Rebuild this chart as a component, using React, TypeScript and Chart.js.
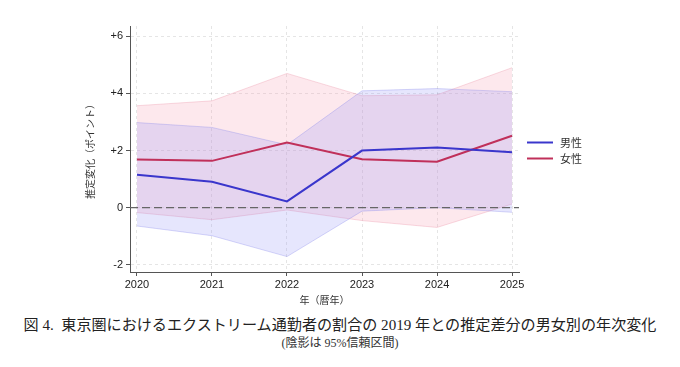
import React, { useEffect, useRef } from "react";
import { Chart, registerables } from "chart.js";

Chart.register(...registerables);

const years = [2020, 2021, 2022, 2023, 2024, 2025];
const maleEst = [1.15, 0.91, 0.22, 2.0, 2.11, 1.94];
const maleLo = [-0.64, -0.98, -1.71, -0.12, 0.0, -0.16];
const maleHi = [2.98, 2.81, 2.2, 4.09, 4.17, 4.06];
const femaleEst = [1.69, 1.64, 2.28, 1.7, 1.61, 2.52];
const femaleLo = [-0.17, -0.42, -0.08, -0.45, -0.69, 0.13];
const femaleHi = [3.57, 3.74, 4.7, 3.92, 3.95, 4.9];
const yTicks = [-2, 0, 2, 4, 6];
const yTickLabels = ["-2", "0", "+2", "+4", "+6"];
const seriesNames = ["男性", "女性"];
const yTitle = "推定変化（ポイント）";
const xTitle = "年（暦年）";
const caption = "図 4.  東京圏におけるエクストリーム通勤者の割合の 2019 年との推定差分の男女別の年次変化";
const subCaption = "(陰影は 95%信頼区間)";

const MALE = "#3a36cc";
const FEMALE = "#c0305a";

const pts = (arr: number[]) => arr.map((y, i) => ({ x: years[i], y }));

const legendPlugin = {
  id: "sideLegend",
  afterDraw(chart: any) {
    const { ctx, chartArea } = chart;
    const cy = (chartArea.top + chartArea.bottom) / 2;
    const items = [
      { label: seriesNames[0], color: MALE, y: cy - 6.5 },
      { label: seriesNames[1], color: FEMALE, y: cy + 9.5 },
    ];
    ctx.save();
    items.forEach((it) => {
      ctx.strokeStyle = it.color;
      ctx.lineWidth = 2;
      ctx.beginPath();
      ctx.moveTo(chartArea.right + 8, it.y);
      ctx.lineTo(chartArea.right + 34, it.y);
      ctx.stroke();
      ctx.fillStyle = "#333";
      ctx.font = "11px 'Noto Sans CJK JP'";
      ctx.textBaseline = "middle";
      ctx.textAlign = "left";
      ctx.fillText(it.label, chartArea.right + 41, it.y + 0.5);
    });
    ctx.restore();
  },
};

export default function App() {
  const ref = useRef<HTMLCanvasElement>(null);
  useEffect(() => {
    if (!ref.current) return;
    const xMin = 2019.907;
    const xMax = 2025.093;
    const chart = new Chart(ref.current, {
      type: "line",
      data: {
        datasets: [
          {
            label: "femaleHi",
            data: pts(femaleHi),
            borderColor: "rgba(235,150,170,0.35)",
            borderWidth: 1,
            backgroundColor: "rgba(245,140,165,0.2)",
            pointRadius: 0,
            fill: "+1",
            order: 5,
          },
          {
            label: "femaleLo",
            data: pts(femaleLo),
            borderColor: "rgba(235,150,170,0.35)",
            borderWidth: 1,
            pointRadius: 0,
            fill: false,
            order: 5,
          },
          {
            label: "maleHi",
            data: pts(maleHi),
            borderColor: "rgba(140,140,235,0.35)",
            borderWidth: 1,
            backgroundColor: "rgba(130,130,245,0.2)",
            pointRadius: 0,
            fill: "+1",
            order: 4,
          },
          {
            label: "maleLo",
            data: pts(maleLo),
            borderColor: "rgba(140,140,235,0.35)",
            borderWidth: 1,
            pointRadius: 0,
            fill: false,
            order: 4,
          },
          {
            label: "zero",
            data: [
              { x: xMin, y: 0 },
              { x: xMax, y: 0 },
            ],
            borderColor: "#666",
            borderWidth: 1.3,
            borderDash: [8, 4],
            pointRadius: 0,
            fill: false,
            order: 3,
          },
          {
            label: seriesNames[0],
            data: pts(maleEst),
            borderColor: MALE,
            borderWidth: 2,
            pointRadius: 0,
            fill: false,
            order: 1,
          },
          {
            label: seriesNames[1],
            data: pts(femaleEst),
            borderColor: FEMALE,
            borderWidth: 2,
            pointRadius: 0,
            fill: false,
            order: 2,
          },
        ],
      },
      options: {
        animation: false,
        responsive: false,
        layout: { padding: { left: 0, right: 153, top: 18, bottom: 0 } },
        plugins: {
          legend: { display: false },
          tooltip: { enabled: false },
        },
        scales: {
          x: {
            type: "linear",
            min: xMin,
            max: xMax,
            afterBuildTicks: (s: any) => {
              s.ticks = years.map((v) => ({ value: v }));
            },
            afterFit: (s: any) => {
              s.height = 36;
            },
            ticks: {
              callback: (v: any) => String(v),
              color: "#222",
              font: { family: "'Liberation Sans', Arial", size: 11 },
              padding: 2,
              maxRotation: 0,
            },
            grid: {
              color: "rgba(0,0,0,0.1)",
              tickColor: "#555",
              tickLength: 4,
              tickBorderDash: [],
            },
            border: { display: true, color: "#555", width: 1, dash: [3, 3] },
            title: {
              display: true,
              text: xTitle,
              color: "#333",
              font: { family: "'Noto Sans CJK JP'", size: 10 },
              padding: { top: 0, bottom: 2 },
            },
          },
          y: {
            type: "linear",
            min: -2.25,
            max: 6.36,
            afterBuildTicks: (s: any) => {
              s.ticks = yTicks.map((v) => ({ value: v }));
            },
            afterFit: (s: any) => {
              s.width = 122;
            },
            ticks: {
              callback: (v: any) => yTickLabels[yTicks.indexOf(v)] ?? "",
              color: "#222",
              font: { family: "'Liberation Sans', Arial", size: 11 },
              padding: 3,
            },
            grid: {
              color: "rgba(0,0,0,0.1)",
              tickColor: "#555",
              tickLength: 4,
              tickBorderDash: [],
            },
            border: { display: true, color: "#555", width: 1, dash: [3, 3] },
            title: {
              display: true,
              text: yTitle,
              color: "#333",
              font: { family: "'Noto Sans CJK JP'", size: 10 },
              padding: { top: 76, bottom: 0 },
            },
          },
        },
      },
      plugins: [legendPlugin],
    } as any);
    return () => chart.destroy();
  }, []);

  return (
    <div style={{ width: 664 }}>
      <canvas ref={ref} width={664} height={300} style={{ display: "block", width: 664, height: 300 }} />
      <div
        style={{
          textAlign: "center",
          marginTop: 7,
          fontFamily: "'Liberation Serif', 'Noto Sans CJK JP', serif",
          fontSize: 15.1,
          lineHeight: "20px",
          color: "#222",
          whiteSpace: "pre",
        }}
      >
        {caption}
      </div>
      <div
        style={{
          textAlign: "center",
          fontFamily: "'Liberation Serif', 'Noto Sans CJK JP', serif",
          fontSize: 12,
          lineHeight: "14px",
          color: "#333",
          marginTop: 1,
        }}
      >
        {subCaption}
      </div>
    </div>
  );
}
